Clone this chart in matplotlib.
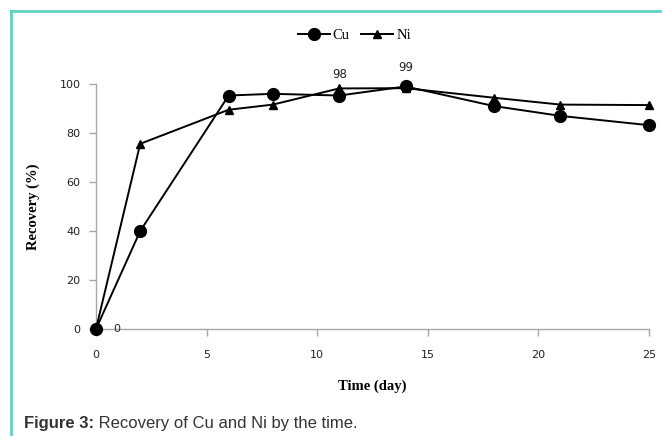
import numpy as np
import matplotlib.pyplot as plt
from matplotlib.lines import Line2D

# data
days = [0, 2, 6, 8, 11, 14, 18, 21, 25]
cu = [0, 40, 95.3, 96, 95.3, 99, 91, 87, 83.2]
ni = [0, 75.6, 89.5, 91.6, 98.2, 98.3, 94.4, 91.6, 91.4]

fig = plt.figure(figsize=(6.62, 4.36), dpi=100)
ax = fig.add_axes([0.145, 0.2454, 0.835, 0.5619])

ax.plot(days, cu, color="black", lw=1.4, marker="o", ms=8.5,
        label="Cu", clip_on=False, zorder=3)
ax.plot(days, ni, color="black", lw=1.4, marker="^", ms=6,
        label="Ni", clip_on=False, zorder=3)

ax.set_xlim(0, 25)
ax.set_ylim(0, 100)
ax.set_xticks(np.arange(0, 26, 5))
ax.set_yticks(np.arange(0, 101, 20))
for s in ["top", "right"]:
    ax.spines[s].set_visible(False)
for s in ["left", "bottom"]:
    ax.spines[s].set_color("#a6a6a6")
    ax.spines[s].set_linewidth(1.0)
ax.tick_params(axis="both", colors="#a6a6a6", labelcolor="#222222",
               labelsize=8, length=5, width=1.0)
ax.tick_params(axis="x", pad=10)
ax.tick_params(axis="y", pad=6)

# data labels
ax.text(0.95, 0, "0", fontsize=8, color="#222222", ha="center", va="center")
ax.text(11, cu[4] + 6, "98", fontsize=8.5, color="#222222", ha="center", va="bottom")
ax.text(14, cu[5] + 5, "99", fontsize=8.5, color="#222222", ha="center", va="bottom")

ax.set_xlabel("Time (day)", family="Liberation Serif", fontweight="bold",
              fontsize=10.5, labelpad=14)
ax.set_ylabel("Recovery (%)", family="Liberation Serif", fontweight="bold",
              fontsize=10.5, labelpad=14)

fig.legend(loc="center", bbox_to_anchor=(0.535, 0.918), ncol=2,
           frameon=False, prop={"family": "Liberation Serif", "size": 10.5},
           handlelength=2.2, handletextpad=0.2, columnspacing=0.8)

# teal frame on top and left
fig.add_artist(Line2D([0.0166, 0.0166], [0, 0.975], color="#5fd3c3", lw=2,
                      transform=fig.transFigure))
fig.add_artist(Line2D([0.0166, 1.0], [0.975, 0.975], color="#5fd3c3", lw=2,
                      transform=fig.transFigure))

# caption: bold part then normal part
cap = fig.text(0.036, 0.018, "Figure 3:", fontsize=12, color="#333333",
               family="Liberation Sans", fontweight="bold")
fig.canvas.draw()
ax.annotate(" Recovery of Cu and Ni by the time.", xy=(1, 0), xycoords=cap,
            va="bottom", ha="left", fontsize=12, color="#333333",
            family="Liberation Sans", annotation_clip=False)
fig.savefig("out.png", dpi=100)
